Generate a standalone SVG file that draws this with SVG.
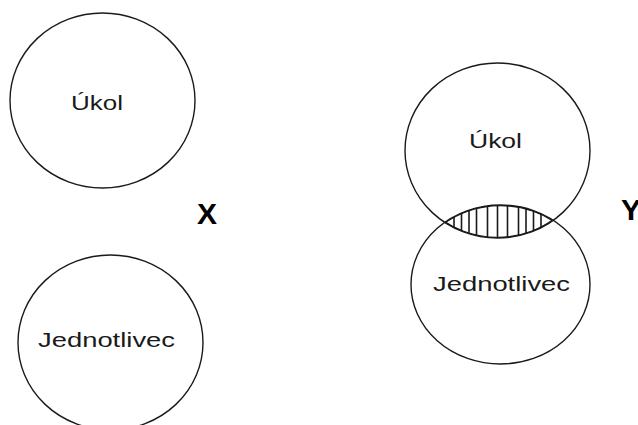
<svg xmlns="http://www.w3.org/2000/svg" width="638" height="425" viewBox="0 0 638 425">
<style>
.c{fill:none;stroke:#1a1a1a;stroke-width:1.4}
.t{font-family:"Liberation Sans",Arial,sans-serif;font-size:20px;fill:#1a1a1a}
.b{font-family:"Liberation Sans",Arial,sans-serif;font-size:30px;font-weight:bold;fill:#000}
.h{stroke:#1a1a1a;stroke-width:1.6}
</style>
<defs>
<clipPath id="cA"><ellipse cx="497.5" cy="150.5" rx="92.5" ry="87.5"/></clipPath>
<clipPath id="cB"><ellipse cx="500.5" cy="284.5" rx="89.5" ry="79.5"/></clipPath>
</defs>
<rect width="638" height="425" fill="#fff"/>
<g id="ukol1">
<ellipse class="c" cx="102.5" cy="100.5" rx="92.5" ry="87.5"/>
<text class="t" x="71" y="110" textLength="52" lengthAdjust="spacingAndGlyphs">Úkol</text>
</g>
<g id="jednotlivec1">
<ellipse class="c" cx="110.5" cy="342.5" rx="92.5" ry="87.5"/>
<text class="t" x="38" y="347" textLength="137" lengthAdjust="spacingAndGlyphs">Jednotlivec</text>
</g>
<g id="labelX"><text class="b" x="197" y="224">X</text></g>
<g id="ukol2">
<ellipse class="c" cx="497.5" cy="150.5" rx="92.5" ry="87.5"/>
<text class="t" x="469" y="148" textLength="53" lengthAdjust="spacingAndGlyphs">Úkol</text>
</g>
<g id="jednotlivec2">
<ellipse class="c" cx="500.5" cy="284.5" rx="89.5" ry="79.5"/>
<text class="t" x="433" y="291" textLength="137" lengthAdjust="spacingAndGlyphs">Jednotlivec</text>
</g>
<g id="prunik" clip-path="url(#cA)">
<g clip-path="url(#cB)">
<path class="h" d="M454 200V245M461.5 200V245M469 200V245M476.5 200V245M487.5 200V245M497.5 200V245M507.5 200V245M518.5 200V245M526 200V245M533.5 200V245M541 200V245"/>
<ellipse cx="497.5" cy="150.5" rx="92.5" ry="87.5" fill="none" stroke="#1a1a1a" stroke-width="2.4"/>
<ellipse cx="500.5" cy="284.5" rx="89.5" ry="79.5" fill="none" stroke="#1a1a1a" stroke-width="2.4"/>
</g>
</g>
<g id="labelY"><text class="b" x="621" y="220">Y</text></g>
<g id="connectors"/>
</svg>
